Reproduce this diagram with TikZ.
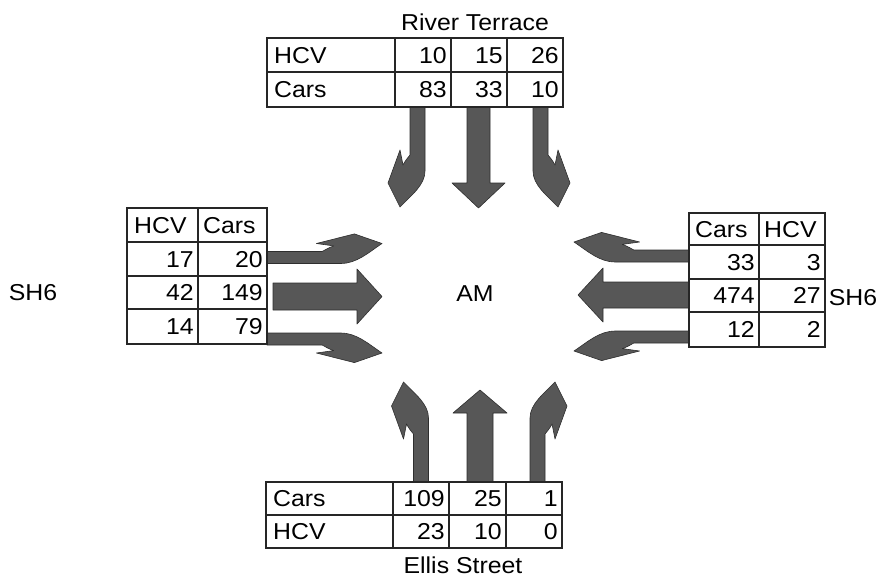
\documentclass[tikz,border=0pt]{standalone}
\usepackage{fontspec}
\setmainfont{Liberation Sans}[FakeStretch=1.08]
\newcommand\turnarrow[1]{\begin{scope}[#1]
  \fill[flow] (0,-7.5) -- (64,-7.5) .. controls (78,-7.5) and (88,6) .. (100,17.5)
    -- (76,29.5) -- (43,17.5) -- (58,14.5) .. controls (53,12) and (50,9) .. (48,7.5)
    -- (0,7.5) -- cycle;
\end{scope}}
\newcommand\straightarrow[5]{\begin{scope}[#1]
  \fill[flow] (0,-#2) -- (#3,-#2) -- (#3,-#4) -- ({#3+#5},0) -- (#3,#4) -- (#3,#2) -- (0,#2) -- cycle;
\end{scope}}
\begin{document}
\begin{tikzpicture}[x=1pt,y=-1pt,
  grid/.style={line width=1.2pt, draw=black!85},
  txt/.style={inner sep=0pt, text height=16.5pt, text depth=0pt, font=\fontsize{23}{27}\selectfont},
  lbl/.style={txt, anchor=west},
  num/.style={txt, anchor=east},
  flow/.style={fill=black!66, draw=black!82, line width=0.6pt, line join=round}]
\useasboundingbox[fill=white] (0,0) rectangle (883,584);

% ---- turning arrows
\turnarrow{shift={(417.5pt,-107pt)}, x={(0pt,-1pt)}, y={(-1pt,0pt)}}
\turnarrow{shift={(540.5pt,-107pt)}, x={(0pt,-1pt)}, y={(1pt,0pt)}}
\turnarrow{shift={(421pt,-482pt)}, x={(0pt,1pt)}, y={(-1pt,0pt)}}
\turnarrow{shift={(537.5pt,-482pt)}, x={(0pt,1pt)}, y={(1pt,0pt)}}
\turnarrow{shift={(267pt,-257.5pt)}, x={(1.15pt,0pt)}, y={(0pt,0.8pt)}}
\turnarrow{shift={(267pt,-339pt)}, x={(1.15pt,0pt)}, y={(0pt,-0.8pt)}}
\turnarrow{shift={(689pt,-256pt)}, x={(-1.15pt,0pt)}, y={(0pt,0.8pt)}}
\turnarrow{shift={(689pt,-337pt)}, x={(-1.15pt,0pt)}, y={(0pt,-0.8pt)}}

% ---- straight arrows
\straightarrow{shift={(478.5pt,-107pt)}, x={(0pt,-1pt)}, y={(1pt,0pt)}}{11.5}{76}{26.5}{25}
\straightarrow{shift={(480pt,-482pt)}, x={(0pt,1pt)}, y={(1pt,0pt)}}{13}{69}{27}{23}
\straightarrow{shift={(273pt,-296.5pt)}, x={(1pt,0pt)}, y={(0pt,1pt)}}{13.5}{84}{27.5}{25}
\straightarrow{shift={(689pt,-295pt)}, x={(-1pt,0pt)}, y={(0pt,1pt)}}{13}{86}{27}{25}

% ---- top table (River Terrace)
\draw[grid, fill=white] (267,38) rectangle (563,107);
\draw[grid] (267,72) -- (563,72);
\foreach \xx in {395,451,507} \draw[grid] (\xx,38) -- (\xx,107);
\node[lbl] (tHCV) at (274,55) {HCV};
\node[num] (t11) at (447,55) {10};
\node[num] (t12) at (503,55) {15};
\node[num] (t13) at (559,55) {26};
\node[lbl] (tCars) at (274,89.5) {Cars};
\node[num] (t21) at (447,89.5) {83};
\node[num] (t22) at (503,89.5) {33};
\node[num] (t23) at (559,89.5) {10};
\node[txt] (river) at (475,22) {River Terrace};

% ---- bottom table (Ellis Street)
\draw[grid, fill=white] (266,482) rectangle (562,548);
\draw[grid] (266,515) -- (562,515);
\foreach \xx in {393,449,506} \draw[grid] (\xx,482) -- (\xx,548);
\node[lbl] (bCars) at (273,498.5) {Cars};
\node[num] (b11) at (445,498.5) {109};
\node[num] (b12) at (502,498.5) {25};
\node[num] (b13) at (558,498.5) {1};
\node[lbl] (bHCV) at (273,531.5) {HCV};
\node[num] (b21) at (445,531.5) {23};
\node[num] (b22) at (502,531.5) {10};
\node[num] (b23) at (558,531.5) {0};
\node[txt] (ellis) at (463,565) {Ellis Street};

% ---- left table (SH6 west)
\draw[grid, fill=white] (127,208) rectangle (267,344);
\foreach \yy in {242,276,309} \draw[grid] (127,\yy) -- (267,\yy);
\draw[grid] (198,208) -- (198,344);
\node[lbl] (lHCV) at (134,225) {HCV};
\node[lbl] (lCars) at (203,225) {Cars};
\node[num] (l11) at (194,259) {17};
\node[num] (l12) at (263,259) {20};
\node[num] (l21) at (194,292.5) {42};
\node[num] (l22) at (263,292.5) {149};
\node[num] (l31) at (194,326.5) {14};
\node[num] (l32) at (263,326.5) {79};
\node[txt] (sh6w) at (33,292) {SH6};

% ---- right table (SH6 east)
\draw[grid, fill=white] (689,213) rectangle (825,347);
\foreach \yy in {245,279,312} \draw[grid] (689,\yy) -- (825,\yy);
\draw[grid] (759,213) -- (759,347);
\node[lbl] (rCars) at (695,229) {Cars};
\node[lbl] (rHCV) at (764,229) {HCV};
\node[num] (r11) at (755,262) {33};
\node[num] (r12) at (821,262) {3};
\node[num] (r21) at (755,295.5) {474};
\node[num] (r22) at (821,295.5) {27};
\node[num] (r31) at (755,329.5) {12};
\node[num] (r32) at (821,329.5) {2};
\node[txt] (sh6e) at (853,297) {SH6};

\node[txt] (am) at (475,293) {AM};
\end{tikzpicture}
\end{document}
